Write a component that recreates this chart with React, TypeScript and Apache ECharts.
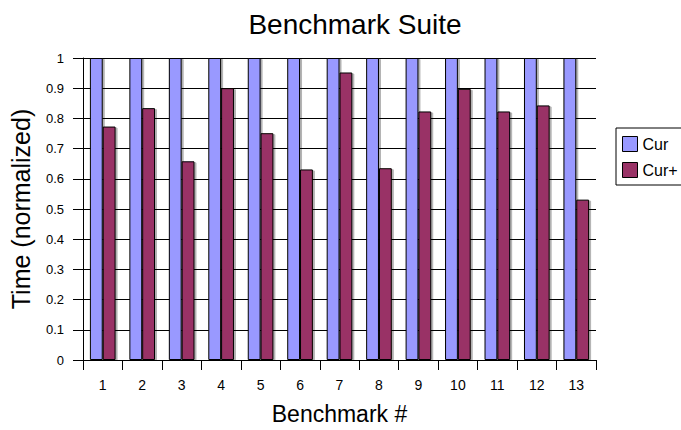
import React, { useEffect, useRef } from "react";
import * as echarts from "echarts";

const categories = ["1", "2", "3", "4", "5", "6", "7", "8", "9", "10", "11", "12", "13"];
const curValues = [1, 1, 1, 1, 1, 1, 1, 1, 1, 1, 1, 1, 1];
const curPlusValues = [0.773, 0.834, 0.658, 0.9, 0.751, 0.631, 0.952, 0.635, 0.823, 0.898, 0.823, 0.843, 0.531];
const seriesNames = ["Cur", "Cur+"];
const FONT = "Liberation Sans, Arial, sans-serif";

export default function App() {
  const ref = useRef<HTMLDivElement>(null);
  useEffect(() => {
    if (!ref.current) return;
    const chart = echarts.init(ref.current, undefined, { renderer: "svg" });
    chart.setOption({
      animation: false,
      backgroundColor: "#fff",
      textStyle: { fontFamily: FONT, color: "#000" },
      title: {
        text: "Benchmark Suite",
        left: 350,
        textAlign: "center",
        top: 5,
        textStyle: { fontFamily: FONT, fontSize: 28, fontWeight: "normal", color: "#000" },
      },
      legend: {
        orient: "vertical",
        left: 616,
        top: 128,
        width: 80,
        padding: [8, 30, 7, 6],
        itemWidth: 15,
        itemHeight: 15,
        itemGap: 10,
        borderColor: "#000",
        borderWidth: 1,
        icon: "rect",
        itemStyle: { borderColor: "#000", borderWidth: 1 },
        textStyle: { fontFamily: FONT, fontSize: 16, color: "#000" },
        data: seriesNames,
      },
      grid: { left: 82, right: 85, top: 58, bottom: 64, containLabel: false },
      xAxis: {
        type: "category",
        data: categories,
        name: "Benchmark #",
        nameLocation: "middle",
        nameGap: 42,
        nameTextStyle: { fontFamily: FONT, fontSize: 23, color: "#000" },
        axisLine: { show: true, lineStyle: { color: "#000", width: 1 } },
        axisTick: { show: true, length: 10, lineStyle: { color: "#000" } },
        axisLabel: { fontFamily: FONT, fontSize: 14, color: "#000", margin: 18 },
      },
      yAxis: {
        type: "value",
        min: 0,
        max: 1,
        interval: 0.1,
        name: "Time (normalized)",
        nameLocation: "middle",
        nameGap: 50,
        nameRotate: 90,
        nameTextStyle: { fontFamily: FONT, fontSize: 25, color: "#000" },
        axisLine: { show: true, lineStyle: { color: "#000", width: 1 } },
        axisTick: { show: true, length: 10, lineStyle: { color: "#000" } },
        axisLabel: {
          fontFamily: FONT,
          fontSize: 13,
          color: "#000",
          margin: 19,
          formatter: (v: number) => String(Math.round(v * 10) / 10),
        },
        splitLine: { show: true, lineStyle: { color: "#000", width: 1 } },
      },
      series: [
        {
          name: seriesNames[0],
          type: "bar",
          data: curValues,
          barGap: "0%",
          barCategoryGap: "35%",
          itemStyle: {
            color: "#9999FF",
            borderColor: "#000",
            borderWidth: 1,
            shadowColor: "rgba(0,0,0,0.3)",
            shadowOffsetX: 2,
            shadowOffsetY: 1,
          },
        },
        {
          name: seriesNames[1],
          type: "bar",
          data: curPlusValues,
          barGap: "0%",
          barCategoryGap: "35%",
          itemStyle: {
            color: "#993366",
            borderColor: "#000",
            borderWidth: 1,
            shadowColor: "rgba(0,0,0,0.3)",
            shadowOffsetX: 2,
            shadowOffsetY: 1,
          },
        },
      ],
    });
    return () => chart.dispose();
  }, []);
  return (
    <div
      ref={ref}
      style={{ position: "absolute", left: 0, top: 0, width: 681, height: 430 }}
    />
  );
}
